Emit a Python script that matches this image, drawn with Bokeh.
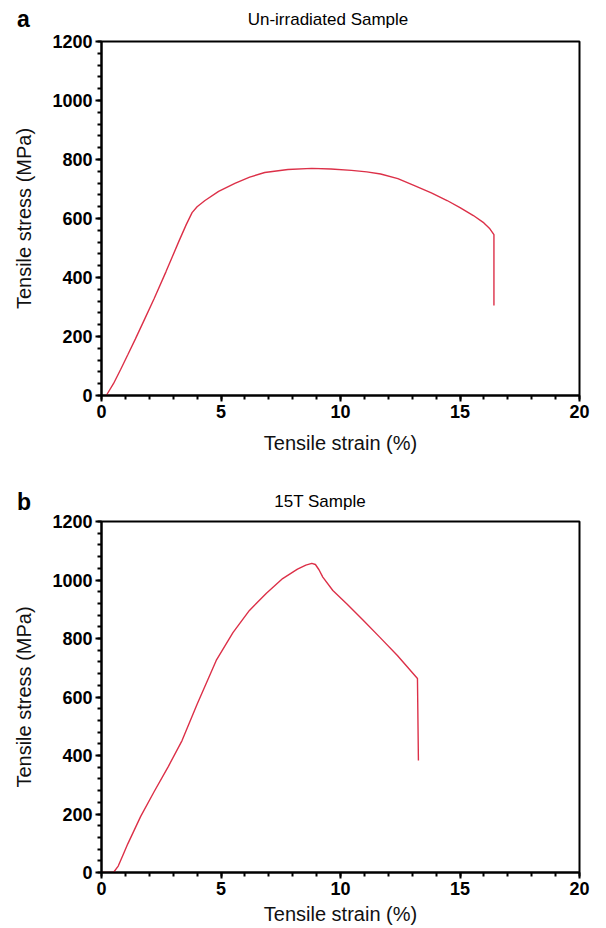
from bokeh.plotting import figure
from bokeh.models import SingleIntervalTicker, Range1d, Div
from bokeh.layouts import column
from bokeh.embed import file_html
from bokeh.resources import INLINE

# Panel a: un-irradiated sample
strain_a = [0.2, 0.5, 0.8, 1.1, 1.42, 1.8, 2.2, 2.7, 3.25, 3.55, 3.79, 4.0, 4.33,
            4.9, 5.58, 6.2, 6.83, 7.8, 8.8, 9.6, 10.46, 11.1, 11.68, 12.4, 13.07,
            13.8, 14.46, 15.0, 15.56, 16.0, 16.25, 16.42, 16.42]
stress_a = [0, 40, 88, 138, 192, 258, 328, 420, 525, 580, 620, 640, 661,
            692, 719, 740, 756, 766, 770, 768, 763, 758, 751, 735, 712,
            687, 661, 637, 610, 585, 565, 545, 305]

# Panel b: 15T sample
strain_b = [0, 0.5, 0.7, 0.9, 1.1, 1.64, 2.2, 2.8, 3.37, 4.0, 4.8, 5.5, 6.19, 6.9,
            7.58, 8.2, 8.55, 8.8, 8.95, 9.1, 9.26, 9.68, 10.27, 10.95, 11.66,
            12.38, 13.22, 13.26]
stress_b = [0, 0, 22, 60, 98, 192, 276, 363, 451, 575, 725, 820, 896, 955,
            1005, 1037, 1051, 1057, 1053, 1035, 1010, 964, 918, 862, 803,
            742, 663, 383]

panel_letters = ["a", "b"]
panel_titles = ["Un-irradiated Sample", "15T Sample"]
x_label = "Tensile strain (%)"
y_label = "Tensile stress (MPa)"

FONT = "Liberation Sans"
LINE_COLOR = "#dc3048"


def header(letter, title, height, letter_top, title_top, title_cx):
    html = (
        f'<div style="position:relative;width:590px;height:{height}px;margin:0;padding:0;">'
        f'<span style="position:absolute;left:17px;top:{letter_top}px;'
        f"font-family:'{FONT}';font-weight:bold;font-size:23px;line-height:23px;"
        f'color:black;white-space:nowrap;">{letter}</span>'
        f'<span style="position:absolute;left:{title_cx}px;top:{title_top}px;'
        f"transform:translateX(-50%);font-family:'{FONT}';font-size:17px;"
        f'line-height:17px;color:black;white-space:nowrap;">{title}</span>'
        '</div>'
    )
    return Div(text=html, width=590, height=height, margin=0)


def make_panel(xs, ys, height, left, right, top, bottom, xlab_standoff):
    p = figure(width=590, height=height, x_range=Range1d(0, 20),
               y_range=Range1d(0, 1200), output_backend="svg",
               toolbar_location=None, min_border_left=left,
               min_border_right=right, min_border_top=top,
               min_border_bottom=bottom)
    p.line(xs, ys, line_color=LINE_COLOR, line_width=1.4)
    p.xgrid.visible = False
    p.ygrid.visible = False
    p.outline_line_color = "black"
    p.outline_line_width = 2
    p.outline_line_alpha = 1
    p.background_fill_color = "white"
    p.border_fill_color = "white"

    p.xaxis.ticker = SingleIntervalTicker(interval=5, num_minor_ticks=5)
    p.yaxis.ticker = SingleIntervalTicker(interval=200, num_minor_ticks=5)
    for ax in (p.xaxis[0], p.yaxis[0]):
        ax.axis_line_width = 2
        ax.axis_line_color = "black"
        ax.major_tick_line_width = 2
        ax.major_tick_line_color = "black"
        ax.minor_tick_line_width = 2
        ax.minor_tick_line_color = "black"
        ax.major_tick_out = 6
        ax.major_tick_in = 0
        ax.minor_tick_out = 4
        ax.minor_tick_in = 0
        ax.major_label_text_font = FONT
        ax.major_label_text_font_style = "bold"
        ax.major_label_text_font_size = "18px"
        ax.major_label_text_color = "black"
        ax.major_label_standoff = 3
        ax.axis_label_text_font = FONT
        ax.axis_label_text_font_style = "normal"
        ax.axis_label_text_font_size = "20px"
        ax.axis_label_text_color = "#111111"
    p.xaxis.axis_label_standoff = xlab_standoff
    p.yaxis.axis_label_standoff = 14
    p.xaxis.axis_label = x_label
    p.yaxis.axis_label = y_label
    return p


ha = header(panel_letters[0], panel_titles[0], 31, 7.5, 10.6, 328)
pa = make_panel(strain_a, stress_a, 433, 101, 11, 10, 69, 11)
hb = header(panel_letters[1], panel_titles[1], 47, 26.5, 28.6, 320)
pb = make_panel(strain_b, stress_b, 416, 101, 11, 10, 55, 5)

layout = column(ha, pa, hb, pb)
open("out.html", "w").write(file_html(layout, INLINE))
